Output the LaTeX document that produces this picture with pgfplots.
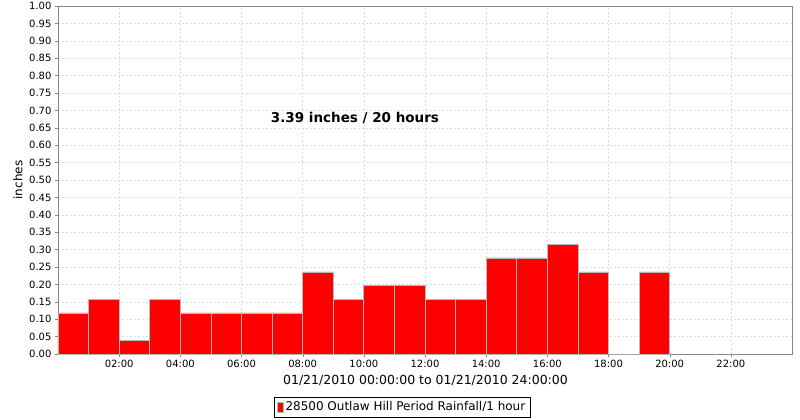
\documentclass[border=0pt]{standalone}
\usepackage{fontspec}
\setmainfont{DejaVu Sans}
\usepackage{pgfplots}
\pgfplotsset{compat=1.18}

\definecolor{axisgray}{HTML}{888888}
\definecolor{gridgray}{HTML}{DDDDDD}
\definecolor{bargray}{HTML}{B8B8B8}

\begin{document}
\begin{tikzpicture}
\path[use as bounding box] (0,0) rectangle (800pt,420pt);
\begin{axis}[
  at={(58pt,66pt)}, anchor=south west,
  scale only axis, width=734pt, height=348pt,
  xmin=0, xmax=24, ymin=0, ymax=1,
  xtick={2,4,...,22},
  xticklabels={02:00,04:00,06:00,08:00,10:00,12:00,14:00,16:00,18:00,20:00,22:00},
  ytick={0,0.05,...,1.001},
  yticklabel style={/pgf/number format/.cd, fixed, fixed zerofill, precision=2},
  /pgf/number format/assume math mode=true,
  ticklabel style={font=\fontsize{10}{12}\selectfont},
  xtick pos=bottom, ytick pos=left,
  tick align=outside, major tick length=3pt,
  tick style={axisgray},
  axis line style={axisgray},
  xmajorgrids, ymajorgrids,
  grid style={gridgray, dash pattern=on 2pt off 2pt},
  xlabel={01/21/2010 00:00:00 to 01/21/2010 24:00:00},
  xlabel style={font=\fontsize{12.5}{14}\selectfont, at={(axis description cs:0.5007,-0.0747)}, anchor=center},
  ylabel={inches},
  ylabel style={font=\fontsize{12}{14}\selectfont, at={(axis description cs:-0.0545,0.5)}, anchor=center},
  legend style={at={(axis description cs:0.4687,-0.152)}, anchor=center, draw=black,
    font=\fontsize{12}{14}\selectfont, inner sep=2.5pt, row sep=0pt},
  legend cell align=left,
]
\addplot[ybar interval, fill=red, draw=bargray, line width=0.7pt,
  legend image code/.code={\draw[fill=red, draw=bargray] (0pt,-5pt) rectangle (6pt,5pt);}]
coordinates {
  (0,0.118) (1,0.157) (2,0.039) (3,0.157) (4,0.118) (5,0.118)
  (6,0.118) (7,0.118) (8,0.236) (9,0.157) (10,0.197) (11,0.197)
  (12,0.157) (13,0.157) (14,0.276) (15,0.276) (16,0.315) (17,0.236)
  (18,0) (19,0.236) (20,0.236)
};
\addlegendentry{28500 Outlaw Hill Period Rainfall/1 hour}
\node[font=\fontsize{13.5}{16}\selectfont\bfseries] at (axis cs:9.71,0.678) {3.39 inches / 20 hours};
\end{axis}
\end{tikzpicture}
\end{document}
